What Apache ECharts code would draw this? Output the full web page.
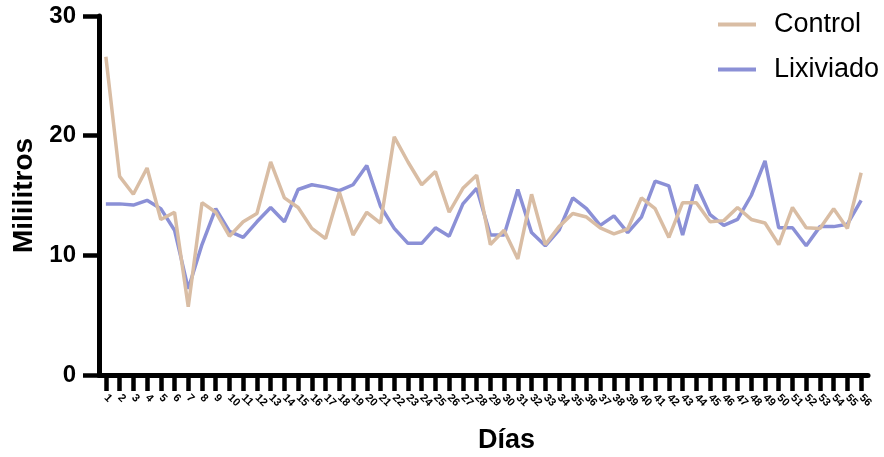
<!DOCTYPE html>
<html>
<head>
<meta charset="utf-8">
<script src="https://cdn.jsdelivr.net/npm/echarts@6/dist/echarts.min.js"></script>
<style>
html,body{margin:0;padding:0;background:#fff;}
#chart{width:884px;height:457px;}
</style>
</head>
<body>
<div id="chart"></div>
<script>
const days = [];
for (let i = 1; i <= 56; i++) days.push(String(i));

const control = [26.6,16.6,15.1,17.3,13.0,13.6,5.7,14.4,13.6,11.6,12.8,13.5,17.8,14.8,14.0,12.25,11.4,15.3,11.7,13.6,12.7,19.9,17.8,15.9,17.0,13.6,15.6,16.7,10.9,12.1,9.7,15.1,10.9,12.4,13.5,13.2,12.3,11.8,12.2,14.8,13.9,11.5,14.4,14.4,12.8,12.9,14.0,13.0,12.7,10.9,14.0,12.3,12.25,13.9,12.25,16.9];

const lixiviado = [14.3,14.3,14.2,14.6,13.9,12.1,7.2,10.9,13.9,12.0,11.5,12.8,14.0,12.8,15.5,15.9,15.7,15.4,15.9,17.5,14.1,12.25,11.0,11.0,12.3,11.6,14.3,15.6,11.7,11.7,15.5,11.9,10.8,12.1,14.8,13.9,12.5,13.3,11.9,13.2,16.2,15.8,11.7,15.9,13.4,12.5,13.0,15.0,17.9,12.3,12.3,10.8,12.4,12.4,12.6,14.6];

const yTicks = [0, 10, 20, 30];

const FONT = '"Liberation Sans", Arial, sans-serif';
const chart = echarts.init(document.getElementById('chart'), null, {renderer: 'canvas'});
chart.setOption({
  animation: false,
  backgroundColor: '#ffffff',
  grid: {left: 99, right: 16, top: 16, bottom: 82, containLabel: false, outerBoundsMode: 'none'},
  legend: {
    orient: 'vertical',
    left: 713,
    top: 6,
    itemWidth: 38,
    itemHeight: 4,
    itemGap: 18,
    icon: 'rect',
    textStyle: {fontFamily: FONT, fontSize: 27, color: '#000', padding: [0, 0, 0, 13]},
    data: [
      {name: 'Control', itemStyle: {color: '#d9bda4'}},
      {name: 'Lixiviado', itemStyle: {color: '#8b90d6'}}
    ]
  },
  xAxis: {
    type: 'category',
    data: days,
    boundaryGap: true,
    name: 'Días',
    nameLocation: 'middle',
    nameGap: 52,
    nameTextStyle: {fontFamily: FONT, fontSize: 27, fontWeight: 'bold', color: '#000', padding: [0, 0, 0, 46]},
    axisLine: {show: true, lineStyle: {color: '#000', width: 5}},
    axisTick: {show: true, interval: 0, alignWithLabel: true, length: 16, lineStyle: {color: '#000', width: 4.5}},
    axisLabel: {interval: 0, rotate: -45, margin: 21, fontFamily: FONT, fontSize: 11, fontWeight: 'bold', color: '#000'},
    splitLine: {show: false}
  },
  yAxis: {
    type: 'value',
    min: yTicks[0],
    max: yTicks[yTicks.length - 1],
    interval: 10,
    name: 'Mililitros',
    nameLocation: 'middle',
    nameRotate: 90,
    nameGap: 58,
    nameTextStyle: {fontFamily: FONT, fontSize: 28, fontWeight: 'bold', color: '#000'},
    axisLine: {show: true, lineStyle: {color: '#000', width: 5}},
    axisTick: {show: true, length: 16, lineStyle: {color: '#000', width: 4.5}},
    axisLabel: {margin: 23, fontFamily: FONT, fontSize: 24, fontWeight: 'bold', color: '#000'},
    splitLine: {show: false}
  },
  series: [
    {
      name: 'Control', type: 'line', data: control, symbol: 'none',
      lineStyle: {color: '#d9bda4', width: 3.5}, itemStyle: {color: '#d9bda4'}, z: 3
    },
    {
      name: 'Lixiviado', type: 'line', data: lixiviado, symbol: 'none',
      lineStyle: {color: '#8b90d6', width: 3.5}, itemStyle: {color: '#8b90d6'}, z: 2
    }
  ]
});
</script>
</body>
</html>
